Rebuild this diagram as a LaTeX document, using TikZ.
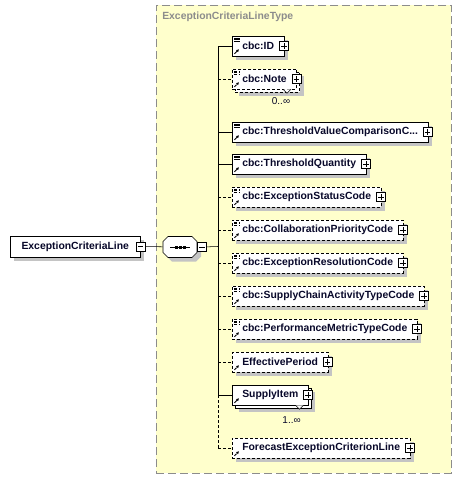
\documentclass[tikz,border=0pt]{standalone}
\usepackage{fontspec}
\setmainfont{Liberation Sans}
\usepackage{xcolor}
\usepackage{tikz}
\usetikzlibrary{shapes,arrows.meta,positioning,calc,shadows}

\definecolor{typefill}{HTML}{FFFFCC}
\definecolor{typeline}{HTML}{8C8C8C}
\definecolor{shadowgray}{HTML}{C4C4C4}
\definecolor{elemtext}{HTML}{08082A}

\newcommand{\elemfont}{\fontsize{7.8pt}{9pt}\selectfont\bfseries}
\newcommand{\occfont}{\fontsize{7.5pt}{9pt}\selectfont}

\begin{document}
\begin{tikzpicture}[
    x=0.75pt, y=-0.75pt,
    font=\elemfont,
    box/.style={draw, fill=white, text=elemtext, minimum height=15pt, inner xsep=7.5pt, inner ysep=0pt, anchor=west},
    shadowed/.style={drop shadow={shadow xshift=3pt, shadow yshift=-3pt, fill=shadowgray, opacity=1}},
    multi/.style={drop shadow={shadow xshift=5.25pt, shadow yshift=-5.25pt, fill=shadowgray, opacity=1},
        copy shadow={shadow xshift=2.25pt, shadow yshift=-2.25pt, fill=white, #1}},
    opt/.style={dash pattern=on 2.25pt off 1.5pt},
    refonly/.style={path picture={
        \draw[line width=0.6pt, -{Triangle[length=2pt,width=2pt]}]
            ([shift={(1.6pt,1.6pt)}]path picture bounding box.south west) -- ++(3.4pt,3.4pt);
    }},
    refsimple/.style={path picture={
        \draw[line width=0.5pt]
            ([shift={(1.5pt,-1.6pt)}]path picture bounding box.north west) -- ++(4.2pt,0)
            ([shift={(1.5pt,-2.7pt)}]path picture bounding box.north west) -- ++(4.2pt,0)
            ([shift={(1.5pt,-3.8pt)}]path picture bounding box.north west) -- ++(4.2pt,0);
        \draw[line width=0.6pt, -{Triangle[length=2pt,width=2pt]}]
            ([shift={(1.6pt,1.6pt)}]path picture bounding box.south west) -- ++(3.4pt,3.4pt);
    }},
    plusbox/.style={draw, fill=white, minimum size=6.75pt, inner sep=0pt, solid, path picture={
        \draw ([xshift=1.3pt]path picture bounding box.west) -- ([xshift=-1.3pt]path picture bounding box.east)
              ([yshift=-1.3pt]path picture bounding box.north) -- ([yshift=1.3pt]path picture bounding box.south);
    }},
    minusbox/.style={draw, fill=white, minimum size=6.75pt, inner sep=0pt, path picture={
        \draw ([xshift=1.3pt]path picture bounding box.west) -- ([xshift=-1.3pt]path picture bounding box.east);
    }},
    notch/.style={draw, fill=white, solid, line width=0.4pt},
    occurs/.style={font=\occfont, text=elemtext, inner sep=0pt}
]
    \useasboundingbox (0,0) rectangle (463,483);

    % Complex type frame
    \node[draw=typeline, dash pattern=on 6pt off 3pt, fill=typefill, minimum width=221.25pt, minimum height=351pt,
          anchor=north west, inner sep=0pt] (frame) at (156,5) {};
    \node[anchor=west, text=typeline, inner sep=0pt] (frametitle) at (162,17) {ExceptionCriteriaLineType};

    % Root element and sequence
    \node[box, shadowed, minimum width=97.5pt, minimum height=15.75pt] (root) at (10,246.5) {ExceptionCriteriaLine};
    \node[minusbox] (rootminus) at (root.east) {};
    \node[minimum width=25.5pt, minimum height=15.75pt, inner sep=0pt] (seq) at (180,247) {};
    \fill[shadowgray] ($(seq.center)+(-13,-1.5)$) -- ++(5,-5) -- ++(24,0) -- ++(5,5) -- ++(0,11)
        -- ++(-5,5) -- ++(-24,0) -- ++(-5,-5) -- cycle;
    \draw[fill=white] ($(seq.center)+(-17,-5.5)$) -- ++(5,-5) -- ++(24,0) -- ++(5,5) -- ++(0,11)
        -- ++(-5,5) -- ++(-24,0) -- ++(-5,-5) -- cycle;
    \draw ($(seq.center)+(-10,0)$) -- ($(seq.center)+(10,0)$);
    \foreach \dx in {-4,0,4}
        \fill ($(seq.center)+(\dx,0)+(-1.5,-1.5)$) rectangle ++(3,3);
    \node[minusbox, right=0pt of seq] (seqminus) {};
    \coordinate (spine) at (218,246.5);

    % Children
    \node[box, shadowed, refsimple] (id) at (232,46) {cbc:ID};
    \node[box, multi=opt, opt, refsimple] (note) at (232,79) {cbc:Note};
    \node[box, shadowed, refsimple] (tvcc) at (232,132) {cbc:ThresholdValueComparisonC...};
    \node[box, shadowed, refsimple] (tq) at (232,164) {cbc:ThresholdQuantity};
    \node[box, shadowed, opt, refsimple] (esc) at (232,197) {cbc:ExceptionStatusCode};
    \node[box, shadowed, opt, refsimple] (cpc) at (232,230) {cbc:CollaborationPriorityCode};
    \node[box, shadowed, opt, refsimple] (erc) at (232,263) {cbc:ExceptionResolutionCode};
    \node[box, shadowed, opt, refsimple] (scatc) at (232,296) {cbc:SupplyChainActivityTypeCode};
    \node[box, shadowed, opt, refsimple] (pmtc) at (232,329) {cbc:PerformanceMetricTypeCode};
    \node[box, shadowed, opt, refonly] (ep) at (232,362) {EffectivePeriod};
    \node[box, multi=solid, refonly] (si) at (232,395) {SupplyItem};
    \node[box, shadowed, opt, refonly] (fecl) at (232,448) {ForecastExceptionCriterionLine};

    \foreach \n in {id,note,tvcc,tq,esc,cpc,erc,scatc,pmtc,ep,si,fecl}
        \node[plusbox] (\n plus) at ([xshift=-0.4pt]\n.east) {};

    % Occurrences
    \coordinate (notev) at ($(note.south east)+(-10,0)$);
    \draw[notch] ($(notev)+(-4,0)$) -- ($(notev)+(0,4)$) -- ($(notev)+(4,0)$);
    \node[occurs] (noteocc) at ($(notev)+(-6,12)$) {0..∞};
    \coordinate (siv) at ($(si.south east)+(-9,0)$);
    \draw[notch] ($(siv)+(-4,0)$) -- ($(siv)+(0,4)$) -- ($(siv)+(4,0)$);
    \node[occurs] (siocc) at ($(siv)+(-8,15)$) {1..∞};

    % Connectors
    \draw (rootminus) -- (seq);
    \draw (seqminus) -- (spine);
    \draw (spine |- id) -- (spine |- si);
    \draw[opt] (spine |- si) -- (spine |- fecl);
    \foreach \n in {id,tvcc,tq,si}
        \draw (spine |- \n) -- (\n);
    \foreach \n in {note,esc,cpc,erc,scatc,pmtc,ep,fecl}
        \draw[opt] (spine |- \n) -- (\n);
\end{tikzpicture}
\end{document}
